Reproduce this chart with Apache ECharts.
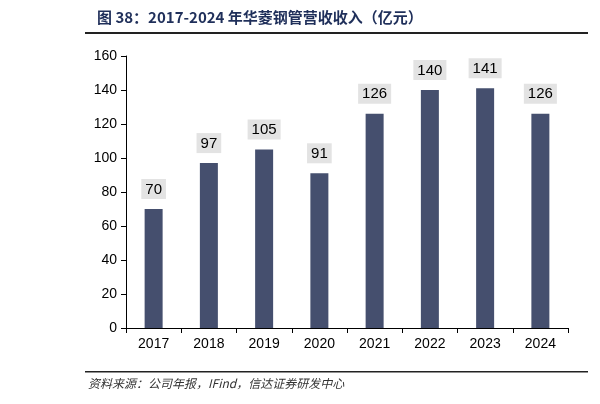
<!DOCTYPE html>
<html><head><meta charset="utf-8">
<script src="https://cdn.jsdelivr.net/npm/echarts@6/dist/echarts.min.js"></script>
<style>html,body{margin:0;padding:0;background:#fff}#c{width:600px;height:404px}</style>
</head><body><div id="c"></div>
<script>
const categories=['2017','2018','2019','2020','2021','2022','2023','2024'];
const revenue=[70,97,105,91,126,140,141,126];
const yTicks=[0,20,40,60,80,100,120,140,160];
const chart=echarts.init(document.getElementById('c'));
chart.setOption({
  animation:false,
  grid:{left:126,right:32,top:56,bottom:76},
  graphic:[
    {type:'text',left:97,top:10,style:{text:'图 38：2017-2024 年华菱钢管营收收入（亿元）',font:'bold 15px "Noto Sans CJK SC", sans-serif',fill:'#1f2f5a'}},
    {type:'rect',shape:{x:85,y:32,width:503,height:2},style:{fill:'#222'}},
    {type:'rect',shape:{x:85,y:371,width:503,height:1.5},style:{fill:'#222'}},
    {type:'text',left:88,top:377,style:{text:'资料来源：公司年报，IFind，信达证券研发中心',font:'italic 12px "Noto Sans CJK SC", sans-serif',fill:'#333'}}
  ],
  xAxis:{type:'category',data:categories,
    axisLine:{lineStyle:{color:'#000'}},
    axisTick:{show:true,inside:false,length:5,lineStyle:{color:'#000'}},
    axisLabel:{color:'#000',fontSize:14,fontFamily:'Liberation Sans, Arial',margin:9}},
  yAxis:{type:'value',min:0,max:160,interval:20,
    axisLine:{show:true,lineStyle:{color:'#000'}},
    axisTick:{show:true,length:5,lineStyle:{color:'#000'}},
    splitLine:{show:false},
    axisLabel:{color:'#000',fontSize:14,fontFamily:'Liberation Sans, Arial',margin:9,
      formatter:v=>yTicks.includes(v)?String(v):''}},
  series:[{type:'bar',data:revenue,barWidth:18,itemStyle:{color:'#454f6e'},
    label:{show:true,position:'top',distance:10,color:'#000',fontSize:15,fontFamily:'Liberation Sans, Arial',
      backgroundColor:'#e3e3e3',padding:[3,4,2,4]}}]
});
</script></body></html>
